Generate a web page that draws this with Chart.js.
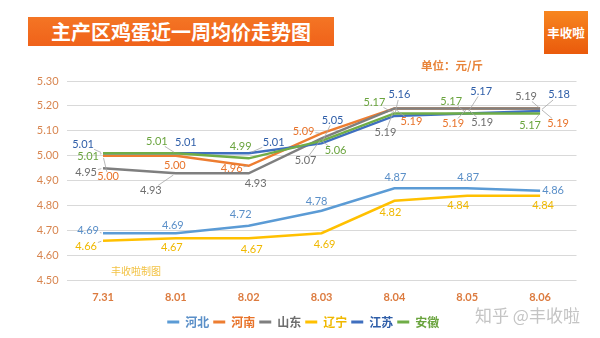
<!DOCTYPE html>
<html>
<head>
<meta charset="utf-8">
<script src="https://cdn.jsdelivr.net/npm/chart.js@4.4.1/dist/chart.umd.min.js"></script>
<style>
    html, body { margin: 0; padding: 0; background: #fff; }
    #wrap { position: relative; width: 600px; height: 338px; overflow: hidden; font-family: "Noto Sans CJK SC", sans-serif; }
    #chart { position: absolute; left: 0; top: 0; }
    .banner {
        position: absolute; left: 28px; top: 17px; width: 306px; height: 29px;
        background: linear-gradient(#f47524, #f0621a);
        color: #fff; font-weight: bold; font-size: 20px; line-height: 29px; text-align: center;
    }
    .logo {
        position: absolute; left: 544px; top: 11px; width: 44px; height: 43px;
        background: linear-gradient(#f7861f, #ea5a0c);
        color: #fff; font-weight: bold; font-size: 12.5px; line-height: 43px; text-align: center;
    }
    .unit { position: absolute; left: 421px; top: 57px; font-size: 11.5px; font-weight: bold; color: #e8843a; }
    .mark { position: absolute; left: 475px; top: 302px; font-size: 17px; color: #c4c4c4; }
    .maker { position: absolute; left: 111px; top: 263px; font-size: 10px; color: #f2c243; }
</style>
</head>
<body>
<div id="wrap">
    <canvas id="chart" width="600" height="338"></canvas>
    <div class="banner">主产区鸡蛋近一周均价走势图</div>
    <div class="logo">丰收啦</div>
    <div class="unit">单位：元/斤</div>
    <div class="maker">丰收啦制图</div>
    <div class="mark">知乎 @丰收啦</div>
</div>
<script>
const labels = ["7.31", "8.01", "8.02", "8.03", "8.04", "8.05", "8.06"];
const seriesNames = ["河北", "河南", "山东", "辽宁", "江苏", "安徽"];

const hebei = [4.69, 4.69, 4.72, 4.78, 4.87, 4.87, 4.86];
const henan = [5.00, 5.00, 4.96, 5.09, 5.19, 5.19, 5.19];
const shandong = [4.95, 4.93, 4.93, 5.07, 5.19, 5.19, 5.19];
const liaoning = [4.66, 4.67, 4.67, 4.69, 4.82, 4.84, 4.84];
const jiangsu = [5.01, 5.01, 5.01, 5.05, 5.16, 5.17, 5.18];
const anhui = [5.01, 5.01, 4.99, 5.06, 5.17, 5.17, 5.17];

const yTicks = [4.50, 4.60, 4.70, 4.80, 4.90, 5.00, 5.10, 5.20, 5.30];

// styles
const lineColors = ["#5b9bd5", "#ed7d31", "#7f7f7f", "#ffc000", "#3f6fbf", "#70ad47"];
const textColors = ["#5a8fc8", "#e8732a", "#6e6e6e", "#f0b800", "#2f5ea8", "#6aa43e"];

// data label offsets (label center relative to point), per series
const labelOffsets = [
    [[-15, -3], [-3, -8], [-8, -11], [-5, -9], [1, -11], [1, -11], [13, 0]],
    [[5, 21], [-1, 10], [-17, 3], [-18, -2], [17, 13], [-14, 15], [18, 15]],
    [[-17, 4], [-25, 17], [7, 10], [-16, 22], [-9, 24], [15, 14], [-14, -12]],
    [[-17, 6], [-4, 9], [3, 11], [3, 11], [-4, 12], [-9, 10], [3, 10]],
    [[-20, -9], [10, -11], [25, -11], [11, -23], [5, -21], [14, -22], [19, -16]],
    [[-15, 3], [-19, -12], [-8, -12], [14, 10], [-20, -11], [-16, -12], [-10, 12]]
];

const allSeries = [hebei, henan, shandong, liaoning, jiangsu, anhui];

const dataLabelPlugin = {
    id: "dataLabels",
    afterDatasetsDraw(chart) {
        const ctx = chart.ctx;
        ctx.save();
        ctx.font = "11px Lato";
        ctx.textAlign = "center";
        ctx.textBaseline = "middle";
        chart.data.datasets.forEach((ds, di) => {
            const meta = chart.getDatasetMeta(di);
            meta.data.forEach((pt, i) => {
                const off = labelOffsets[di][i];
                const tx = pt.x + off[0];
                const ty = pt.y + off[1];
                const text = ds.data[i].toFixed(2);
                const w = ctx.measureText(text).width;
                const dist = Math.hypot(off[0], off[1]);
                if (dist > 15) {
                    // leader line from label edge to the point
                    const hw = w / 2 + 1, hh = 5;
                    const dx = pt.x - tx, dy = pt.y - ty;
                    const s = Math.min(hw / Math.abs(dx || 1e-6), hh / Math.abs(dy || 1e-6));
                    const sx = tx + dx * s, sy = ty + dy * s;
                    ctx.strokeStyle = "#a6a6a6";
                    ctx.lineWidth = 0.8;
                    ctx.beginPath();
                    ctx.moveTo(sx, sy);
                    ctx.lineTo(pt.x - dx * 0.1, pt.y - dy * 0.1);
                    ctx.stroke();
                }
                ctx.fillStyle = textColors[di];
                ctx.fillText(text, tx, ty);
            });
        });
        ctx.restore();
    }
};

const datasets = allSeries.map((values, i) => ({
    label: seriesNames[i],
    data: values,
    borderColor: lineColors[i],
    backgroundColor: lineColors[i],
    borderWidth: 2.5,
    pointRadius: 0,
    tension: 0,
    order: allSeries.length - i
}));

new Chart(document.getElementById("chart"), {
    type: "line",
    data: { labels: labels, datasets: datasets },
    options: {
        responsive: false,
        animation: false,
        layout: { padding: { left: 30, right: 23.5, top: 81, bottom: 0 } },
        plugins: {
            tooltip: { enabled: false },
            legend: {
                position: "bottom",
                labels: {
                    boxWidth: 12,
                    boxHeight: 3,
                    padding: 4,
                    font: { family: "Noto Sans CJK SC", size: 12, weight: "bold", lineHeight: 0.8 },
                    sort: (a, b) => a.datasetIndex - b.datasetIndex,
                    generateLabels(chart) {
                        const items = Chart.defaults.plugins.legend.labels.generateLabels(chart);
                        items.forEach(it => {
                            it.fontColor = textColors[it.datasetIndex];
                            it.fillStyle = lineColors[it.datasetIndex];
                            it.strokeStyle = lineColors[it.datasetIndex];
                            it.lineWidth = 0;
                        });
                        return items;
                    }
                }
            }
        },
        scales: {
            x: {
                offset: true,
                grid: { display: false, drawTicks: false },
                border: { display: false },
                ticks: {
                    padding: 10,
                    color: "#dc7b3f",
                    font: { family: "Lato", size: 11, weight: "bold" }
                },
                afterFit(scale) { scale.height = 31.4; }
            },
            y: {
                min: 4.5,
                max: 5.3,
                afterBuildTicks(scale) { scale.ticks = yTicks.map(v => ({ value: v })); },
                grid: { color: "#d9d9d9", lineWidth: 1, drawTicks: false },
                border: { display: false },
                ticks: {
                    padding: 8,
                    color: "#d8854f",
                    font: { family: "Lato", size: 11 },
                    callback: v => Number(v).toFixed(2)
                },
                afterFit(scale) { scale.width = 36.6; }
            }
        }
    },
    plugins: [dataLabelPlugin]
});
</script>
</body>
</html>
